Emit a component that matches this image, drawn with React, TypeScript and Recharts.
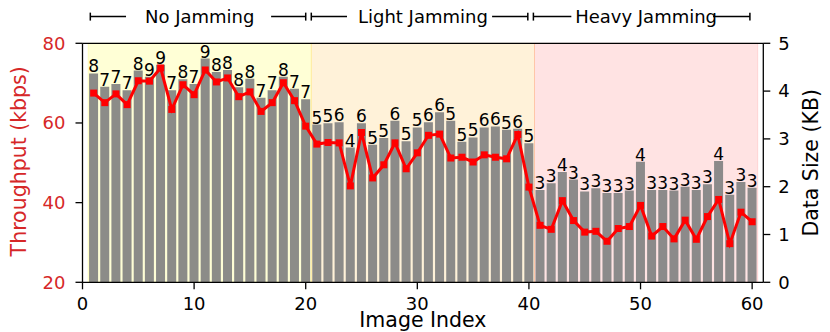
import React from 'react';
import {
  ComposedChart,
  Bar,
  Line,
  XAxis,
  YAxis,
  ReferenceArea,
  ReferenceLine,
  ReferenceDot,
  LabelList,
  Label,
} from 'recharts';

// data size per image (KB), right axis
const dataSize = [
  4.37, 4.09, 4.15, 4.02, 4.43, 4.3, 4.55, 4.02, 4.25, 4.15,
  4.68, 4.4, 4.44, 4.08, 4.26, 3.86, 4.02, 4.3, 4.05, 3.83,
  3.3, 3.33, 3.35, 2.82, 3.33, 2.88, 3.02, 3.38, 2.95, 3.24,
  3.35, 3.56, 3.38, 2.94, 3.03, 3.24, 3.26, 3.19, 3.21, 2.91,
  1.93, 2.07, 2.31, 2.15, 1.9, 1.97, 1.87, 1.87, 1.92, 2.52,
  1.93, 1.93, 1.92, 2.0, 1.93, 2.05, 2.54, 1.83, 2.1, 1.98,
];

// throughput per image (kbps), left axis
const throughput = [
  67.5, 65.1, 67.3, 64.6, 70.6, 70.5, 73.8, 63.4, 69.6, 67.1,
  73.3, 70.3, 71.3, 66.6, 67.8, 62.9, 65.1, 70.1, 65.6, 59.2,
  54.7, 55.1, 55.0, 44.2, 57.6, 46.2, 49.5, 55.0, 48.5, 52.5,
  56.9, 57.2, 51.2, 51.4, 50.2, 52.0, 51.4, 51.0, 57.1, 43.9,
  34.3, 33.3, 40.5, 35.5, 32.6, 32.8, 30.3, 33.5, 34.0, 39.3,
  31.6, 34.0, 30.9, 35.6, 30.8, 36.5, 40.8, 29.7, 37.6, 35.2,
];

// number printed on top of each bar
const levels = [
  8, 7, 7, 7, 8, 9, 9, 7, 8, 7, 9, 8, 8, 8, 8, 7, 7, 8, 7, 7,
  5, 5, 6, 4, 6, 5, 5, 6, 5, 5, 6, 6, 5, 5, 5, 6, 6, 5, 6, 5,
  3, 3, 4, 3, 3, 3, 3, 3, 3, 4, 3, 3, 3, 3, 3, 3, 4, 3, 3, 3,
];

const xTicks = [0, 10, 20, 30, 40, 50, 60];
const leftTicks = [20, 40, 60, 80];
const rightTicks = [0, 1, 2, 3, 4, 5];

// jamming phases: shaded span + bracket annotation above the plot
const phases = [
  { name: 'No Jamming', from: 0.5, to: 20.5, color: 'yellow', alpha: 0.16, line: [0.7, 3.9, 16.9, 20.0] },
  { name: 'Light Jamming', from: 20.5, to: 40.5, color: 'orange', alpha: 0.15, line: [20.5, 23.7, 36.7, 39.9] },
  { name: 'Heavy Jamming', from: 40.5, to: 60.5, color: 'red', alpha: 0.11, line: [40.4, 43.8, 56.5, 59.8] },
];

const data = dataSize.map((d, i) => ({
  idx: i + 1,
  size: d,
  tput: throughput[i],
  level: levels[i],
}));

const RED_TEXT = '#d62728';
const FONT = 'DejaVu Sans';
const BRACKET_Y = 86.7;

const SquareDot = (props: any) => {
  const { cx, cy, index } = props;
  if (cx == null || cy == null) return null;
  return <rect key={`d-${index}`} x={cx - 3.5} y={cy - 3.5} width={7} height={7} fill="#ff0000" />;
};

const App: React.FC = () => {
  return (
    <div style={{ position: 'absolute', left: 0, top: 0, width: 830, height: 332, background: '#fff' }}>
      <ComposedChart
        width={830}
        height={332}
        data={data}
        margin={{ top: 43.3, right: 0, bottom: 0, left: 0 }}
        style={{ fontFamily: FONT }}
      >
        {phases.map((p) => (
          <ReferenceArea
            key={p.name}
            yAxisId="left"
            x1={p.from}
            x2={p.to}
            fill={p.color}
            fillOpacity={p.alpha}
            stroke={p.color}
            strokeOpacity={p.alpha}
          />
        ))}
        <XAxis
          dataKey="idx"
          type="number"
          domain={[0, 61]}
          ticks={xTicks}
          height={49.7}
          tickSize={7}
          tickMargin={8}
          stroke="#000"
          strokeWidth={1.3}
          tick={{ fill: '#000', fontSize: 18, fontFamily: FONT }}
        >
          <Label
            content={({ viewBox }: any) => (
              <text
                x={viewBox.x + viewBox.width / 2}
                y={viewBox.y + 44.4}
                textAnchor="middle"
                fontSize={20.5}
                fontFamily={FONT}
                fill="#000"
              >
                Image Index
              </text>
            )}
          />
        </XAxis>
        <YAxis
          yAxisId="left"
          orientation="left"
          domain={[20, 80]}
          ticks={leftTicks}
          width={82.5}
          tickSize={7}
          tickMargin={10}
          stroke="#000"
          strokeWidth={1.3}
          tick={{ fill: RED_TEXT, fontSize: 18, fontFamily: FONT }}
        >
          <Label
            content={({ viewBox }: any) => (
              <text
                x={26.5}
                y={viewBox.y + viewBox.height / 2 - 1.5}
                transform={`rotate(-90, 26.5, ${viewBox.y + viewBox.height / 2 - 1.5})`}
                textAnchor="middle"
                fontSize={20.5}
                fontFamily={FONT}
                fill={RED_TEXT}
              >
                Throughput (kbps)
              </text>
            )}
          />
        </YAxis>
        <YAxis
          yAxisId="right"
          orientation="right"
          domain={[0, 5]}
          ticks={rightTicks}
          width={66.7}
          tickSize={7}
          tickMargin={8}
          stroke="#000"
          strokeWidth={1.3}
          tick={{ fill: '#000', fontSize: 18, fontFamily: FONT }}
        >
          <Label
            content={({ viewBox }: any) => (
              <text
                x={818}
                y={viewBox.y + viewBox.height / 2}
                transform={`rotate(-90, 818, ${viewBox.y + viewBox.height / 2})`}
                textAnchor="middle"
                fontSize={20.5}
                fontFamily={FONT}
                fill="#000"
              >
                Data Size (KB)
              </text>
            )}
          />
        </YAxis>

        {/* top spine */}
        <ReferenceLine yAxisId="left" y={80} stroke="#000" strokeWidth={1.3} />

        <Bar
          yAxisId="right"
          dataKey="size"
          barSize={9}
          fill="#808080"
          fillOpacity={0.9}
          isAnimationActive={false}
        >
          <LabelList
            dataKey="level"
            position="top"
            offset={1}
            fill="#000"
            fontSize={17}
            fontFamily={FONT}
          />
        </Bar>
        <Line
          yAxisId="left"
          dataKey="tput"
          stroke="#ff0000"
          strokeWidth={3}
          dot={<SquareDot />}
          activeDot={false}
          isAnimationActive={false}
        />

        {/* phase brackets above the axes */}
        {phases.map((p) => (
          <React.Fragment key={`br-${p.name}`}>
            <ReferenceLine
              yAxisId="left"
              ifOverflow="visible"
              segment={[{ x: p.line[0], y: BRACKET_Y }, { x: p.line[1], y: BRACKET_Y }]}
              stroke="#000"
              strokeWidth={1.5}
            />
            <ReferenceLine
              yAxisId="left"
              ifOverflow="visible"
              segment={[{ x: p.line[2], y: BRACKET_Y }, { x: p.line[3], y: BRACKET_Y }]}
              stroke="#000"
              strokeWidth={1.5}
            />
            <ReferenceLine
              yAxisId="left"
              ifOverflow="visible"
              segment={[{ x: p.line[0], y: BRACKET_Y - 1 }, { x: p.line[0], y: BRACKET_Y + 1 }]}
              stroke="#000"
              strokeWidth={1.5}
            />
            <ReferenceLine
              yAxisId="left"
              ifOverflow="visible"
              segment={[{ x: p.line[3], y: BRACKET_Y - 1 }, { x: p.line[3], y: BRACKET_Y + 1 }]}
              stroke="#000"
              strokeWidth={1.5}
            />
            <ReferenceDot
              yAxisId="left"
              ifOverflow="visible"
              x={(p.from + p.to) / 2}
              y={BRACKET_Y}
              r={0}
              stroke="none"
              fill="none"
              label={{ value: p.name, position: 'center', fontSize: 18, fill: '#000', fontFamily: FONT }}
            />
          </React.Fragment>
        ))}
      </ComposedChart>
    </div>
  );
};

export default App;
